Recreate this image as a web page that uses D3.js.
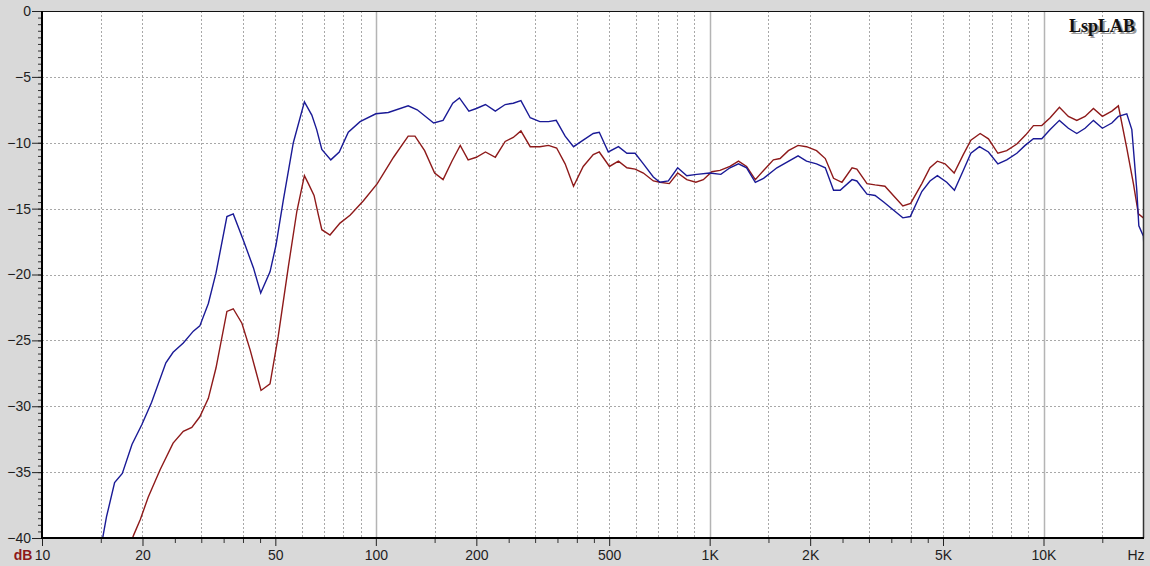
<!DOCTYPE html>
<html><head><meta charset="utf-8">
<script src="https://cdn.jsdelivr.net/npm/d3@7"></script>
<style>html,body{margin:0;padding:0;background:#d9d9d9;}svg{display:block;}</style>
</head><body><svg id="c" width="1150" height="566"></svg>
<script>
// ---- data (Hz, dB) ----
const blueSeries = [[15.0,-40.8],[15.6,-38.4],[16.5,-35.8],[17.4,-35.1],[18.6,-32.9],[19.9,-31.4],[21.3,-29.7],[23.5,-26.7],[24.7,-25.9],[26.5,-25.2],
[28.4,-24.3],[29.7,-23.9],[31.5,-22.2],[33.2,-19.9],[35.8,-15.6],[37.4,-15.4],[40.1,-17.4],[43.0,-19.5],[45.2,-21.4],[48.2,-19.8],
[50.2,-17.8],[52.8,-14.4],[56.6,-10.0],[61.1,-6.9],[64.3,-7.9],[66.5,-9.0],[68.9,-10.5],[73.3,-11.3],[77.7,-10.7],[82.7,-9.2],
[89.7,-8.4],[100,-7.8],[109,-7.7],[125,-7.2],[133,-7.5],[149,-8.5],[159,-8.3],[170,-7.0],[178,-6.6],[190,-7.6],
[200,-7.4],[213,-7.1],[228,-7.6],[244,-7.1],[258,-7.0],[272,-6.8],[290,-8.1],[310,-8.4],[329,-8.4],[347,-8.3],
[369,-9.5],[391,-10.3],[418,-9.8],[448,-9.3],[467,-9.2],[497,-10.7],[533,-10.3],[565,-10.8],[598,-10.8],[633,-11.6],
[678,-12.6],[710,-13.0],[752,-12.9],[802,-11.9],[854,-12.5],[915,-12.4],[1000,-12.3],[1080,-12.4],[1150,-11.9],[1220,-11.6],
[1290,-11.9],[1370,-13.0],[1450,-12.7],[1590,-11.9],[1840,-11.0],[1950,-11.4],[2090,-11.6],[2220,-11.9],[2350,-13.6],[2460,-13.6],
[2670,-12.8],[2760,-12.9],[2960,-13.9],[3130,-14.0],[3320,-14.5],[3550,-15.1],[3790,-15.7],[3990,-15.6],[4320,-13.7],[4570,-12.9],
[4810,-12.5],[5130,-13.0],[5410,-13.6],[5750,-12.1],[6060,-10.8],[6430,-10.3],[6840,-10.7],[7300,-11.6],[7760,-11.3],[8320,-10.8],
[8810,-10.2],[9330,-9.7],[9880,-9.7],[10470,-9.0],[11160,-8.3],[11870,-8.9],[12580,-9.3],[13320,-8.9],[14110,-8.3],[15010,-8.9],
[16020,-8.5],[16760,-8.0],[17760,-7.8],[18390,-9.0],[19030,-13.6],[19300,-16.3],[19920,-17.1],[20000,-18.0]];

const redSeries = [[18.2,-40.8],[18.8,-39.8],[19.7,-38.6],[20.8,-36.9],[22.6,-34.8],[24.7,-32.8],[26.5,-31.9],[28.1,-31.6],[29.7,-30.8],[31.5,-29.4],
[33.2,-27.1],[35.8,-22.8],[37.4,-22.6],[39.7,-23.7],[42.0,-25.7],[45.3,-28.8],[48.2,-28.3],[51.0,-24.7],[54.7,-19.4],[58.0,-15.2],
[61.1,-12.5],[62.8,-13.1],[65.3,-14.0],[67.3,-15.5],[68.9,-16.6],[72.9,-17.0],[78.1,-16.1],[83.7,-15.5],[91.8,-14.4],[101,-13.1],
[113,-11.1],[125,-9.5],[131,-9.5],[140,-10.6],[150,-12.3],[159,-12.8],[169,-11.4],[179,-10.2],[189,-11.3],[200,-11.1],
[213,-10.7],[228,-11.1],[244,-9.9],[258,-9.6],[272,-9.1],[290,-10.3],[310,-10.3],[329,-10.2],[348,-10.4],[369,-11.6],
[391,-13.3],[418,-11.8],[448,-10.9],[467,-10.7],[501,-11.8],[533,-11.4],[565,-11.9],[598,-12.0],[633,-12.3],[678,-12.9],
[710,-13.0],[757,-13.1],[802,-12.3],[854,-12.8],[909,-13.0],[957,-12.8],[1015,-12.2],[1074,-12.1],[1150,-11.8],[1220,-11.4],
[1290,-11.8],[1370,-12.8],[1450,-12.1],[1552,-11.3],[1625,-11.2],[1721,-10.6],[1840,-10.2],[1950,-10.3],[2090,-10.6],[2220,-11.2],
[2350,-12.7],[2490,-13.0],[2670,-11.9],[2760,-12.0],[2960,-13.1],[3130,-13.2],[3350,-13.3],[3550,-14.0],[3790,-14.8],[4000,-14.6],
[4320,-13.1],[4570,-11.9],[4810,-11.4],[5070,-11.6],[5400,-12.3],[5750,-10.9],[6060,-9.8],[6460,-9.3],[6840,-9.7],[7300,-10.8],
[7760,-10.6],[8320,-10.1],[8850,-9.4],[9330,-8.7],[9880,-8.7],[10470,-8.1],[11160,-7.3],[11870,-8.0],[12580,-8.3],[13320,-8.0],
[14110,-7.4],[15010,-8.0],[16020,-7.6],[16760,-7.2],[17760,-10.4],[18590,-13.1],[19240,-15.4],[19920,-15.7],[20000,-15.8]];

const xLabelValues = [10,20,50,100,200,500,1000,2000,5000,10000];
const xLabelTexts  = ["10","20","50","100","200","500","1K","2K","5K","10K"];
const xMinorTicks  = [15,25,30,35,40,45,150,250,300,350,400,450,1500,2500,3000,3500,4000,4500,15000];
const xGridDotted  = [15,20,30,40,50,60,70,80,90,150,200,300,400,500,600,700,800,900,1500,2000,3000,4000,5000,6000,7000,8000,9000,15000];
const xGridSolid   = [100,1000,10000];
const yTicks = [0,-5,-10,-15,-20,-25,-30,-35,-40];
const yMinorStep = 0.5;
const xUnit = "Hz", yUnit = "dB", brand = "LspLAB";

// ---- layout ----
const W = 1150, H = 566;
const m = {left:42, top:11, right:6, bottom:28};
const x0 = m.left, x1 = W - m.right, y0 = m.top, y1 = H - m.bottom;
const svg = d3.select("#c");
const x = d3.scaleLog().domain([10,20000]).range([x0,x1]);
const y = d3.scaleLinear().domain([-40,0]).range([y1,y0]);
const font = "'Liberation Sans', Arial, sans-serif";

svg.append("rect").attr("width",W).attr("height",H).attr("fill","#d9d9d9");
svg.append("rect").attr("x",x0).attr("y",y0).attr("width",x1-x0).attr("height",y1-y0).attr("fill","#ffffff");

// grid
const g = svg.append("g");
g.selectAll("line.vd").data(xGridDotted).join("line")
  .attr("x1",d=>Math.round(x(d))+0.5).attr("x2",d=>Math.round(x(d))+0.5)
  .attr("y1",y0).attr("y2",y1).attr("stroke","#a8a8a8").attr("stroke-width",1).attr("stroke-dasharray","2,2");
g.selectAll("line.vs").data(xGridSolid).join("line")
  .attr("x1",d=>Math.round(x(d))+0.5).attr("x2",d=>Math.round(x(d))+0.5)
  .attr("y1",y0).attr("y2",y1).attr("stroke","#b4b4b4").attr("stroke-width",1.5);
g.selectAll("line.h").data(yTicks.filter(v=>v>-40 && v<0)).join("line")
  .attr("x1",x0).attr("x2",x1).attr("y1",d=>Math.round(y(d))+0.5).attr("y2",d=>Math.round(y(d))+0.5)
  .attr("stroke","#a8a8a8").attr("stroke-width",1).attr("stroke-dasharray","2,2");

// curves
svg.append("clipPath").attr("id","clip").append("rect").attr("x",x0).attr("y",y0).attr("width",x1-x0).attr("height",y1-y0);
const line = d3.line().x(d=>x(d[0])).y(d=>y(d[1]));
const curves = svg.append("g").attr("clip-path","url(#clip)");
curves.append("path").datum(redSeries).attr("d",line).attr("fill","none").attr("stroke","#8e1a1a").attr("stroke-width",1.4);
curves.append("path").datum(blueSeries).attr("d",line).attr("fill","none").attr("stroke","#1a1a96").attr("stroke-width",1.4);

// frame top/right
svg.append("line").attr("x1",x0).attr("x2",x1).attr("y1",y0+0.5).attr("y2",y0+0.5).attr("stroke","#111").attr("stroke-width",1.2);
svg.append("line").attr("x1",x1-0.5).attr("x2",x1-0.5).attr("y1",y0).attr("y2",y1).attr("stroke","#333").attr("stroke-width",1.5);

// y axis
const yMinor = d3.range(-40, 0.001, yMinorStep);
svg.append("g").attr("transform",`translate(${x0},0)`)
  .call(d3.axisLeft(y).tickValues(yMinor).tickSize(4).tickFormat(""))
  .call(s=>{s.select(".domain").remove(); s.selectAll("line").attr("stroke","#333");});
const ya = svg.append("g").attr("transform",`translate(${x0},0)`)
  .call(d3.axisLeft(y).tickValues(yTicks).tickSize(10).tickPadding(1).tickFormat(d=>d3.format("d")(d)));
ya.select(".domain").remove();
ya.selectAll("line").attr("stroke","#222");
ya.selectAll("text").attr("font-family",font).attr("font-size",14).attr("fill","#1e1e1e");
svg.append("line").attr("x1",x0).attr("x2",x0).attr("y1",y0).attr("y2",y1+1).attr("stroke","#000").attr("stroke-width",2);

// x axis
svg.append("g").attr("transform",`translate(0,${y1})`)
  .call(d3.axisBottom(x).tickValues(xMinorTicks).tickSize(5).tickFormat(""))
  .call(s=>{s.select(".domain").remove(); s.selectAll("line").attr("stroke","#333");});
const xa = svg.append("g").attr("transform",`translate(0,${y1})`)
  .call(d3.axisBottom(x).tickValues(xLabelValues).tickSize(8).tickPadding(4).tickFormat((d,i)=>xLabelTexts[i]));
xa.select(".domain").remove();
xa.selectAll("line").attr("stroke","#222");
xa.selectAll("text").attr("font-family",font).attr("font-size",14).attr("fill","#1e1e1e");
svg.append("line").attr("x1",x0-1).attr("x2",x1).attr("y1",y1).attr("y2",y1).attr("stroke","#000").attr("stroke-width",2);

// unit labels
svg.append("text").attr("x",x1-8).attr("y",560).attr("text-anchor","middle").attr("font-family",font).attr("font-size",14).attr("fill","#1e1e1e").text(xUnit);
svg.append("text").attr("x",23).attr("y",560).attr("text-anchor","middle").attr("font-family",font).attr("font-size",14).attr("font-weight","bold").attr("fill","#8e1a1a").text(yUnit);

// brand
svg.append("text").attr("x",1137).attr("y",34).attr("text-anchor","end").attr("font-family","'Liberation Serif','Times New Roman',serif").attr("font-size",18).attr("font-weight","bold").attr("fill","#9a9a9a").text(brand);
svg.append("text").attr("x",1135).attr("y",32).attr("text-anchor","end").attr("font-family","'Liberation Serif','Times New Roman',serif").attr("font-size",18).attr("font-weight","bold").attr("fill","#111").text(brand);
</script></body></html>
